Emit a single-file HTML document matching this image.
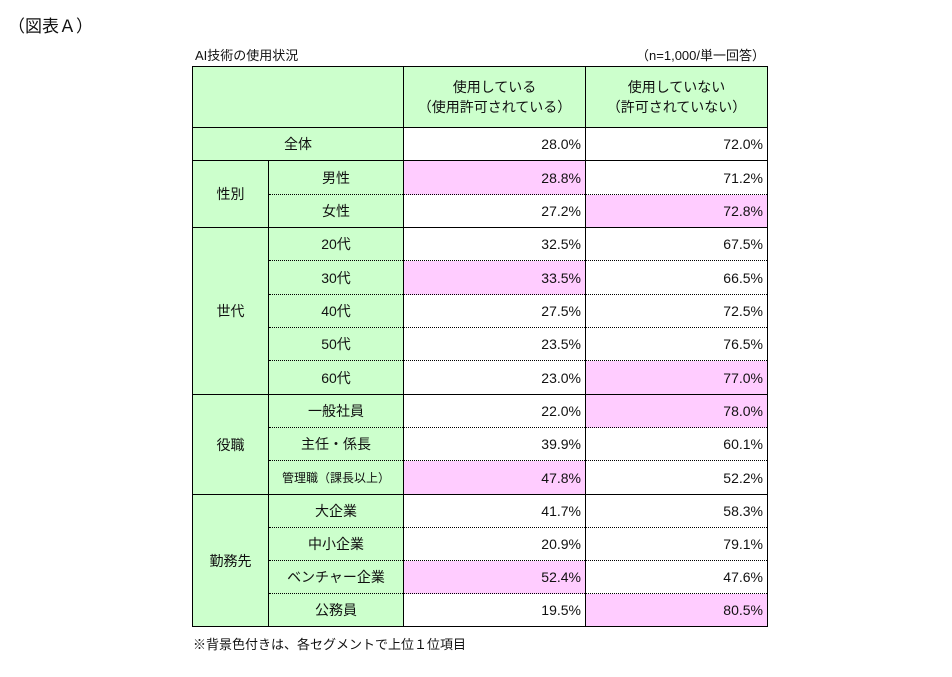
<!DOCTYPE html>
<html><head><meta charset="utf-8"><style>
body{margin:0;width:952px;height:677px;background:#fff;font-family:"Liberation Sans","Noto Sans CJK JP",sans-serif;color:#111;position:relative;overflow:hidden}
.t{position:absolute;white-space:nowrap}
table{position:absolute;left:192px;top:66px;border-collapse:collapse;font-size:14px;table-layout:fixed}
td{border:1px solid #000;border-top-style:dotted;border-bottom-style:dotted;padding:0 4px;height:32px;box-sizing:border-box}
tr.s td{border-top-style:solid}
tr.h td{border-style:solid}
tr.e td{border-bottom-style:solid}
td.r{border-top-style:solid;border-bottom-style:solid}
.g{background:#ccffcc;text-align:center}
.p{background:#ffccff}
.n{text-align:right}
</style></head><body>
<div class="t" style="left:8px;top:12px;font-size:17px">（図表Ａ）</div>
<div class="t" style="left:195px;top:45px;font-size:13px">AI技術の使用状況</div>
<div class="t" style="left:587px;top:45px;font-size:13px;width:178px;text-align:right">（n=1,000/単一回答）</div>
<table>
<colgroup><col style="width:76px"><col style="width:135px"><col style="width:182px"><col style="width:182px"></colgroup>
<tr class="h" style="height:61px"><td class="g" colspan="2" style="height:61px"></td><td class="g" style="line-height:20px">使用している<br>（使用許可されている）</td><td class="g" style="line-height:20px">使用していない<br>（許可されていない）</td></tr>
<tr class="s e" style="height:33px"><td class="g" colspan="2">全体</td><td class="n">28.0%</td><td class="n">72.0%</td></tr>
<tr class="s" style="height:34px"><td class="g r" rowspan="2">性別</td><td class="g">男性</td><td class="n p">28.8%</td><td class="n">71.2%</td></tr>
<tr style="height:33px"><td class="g">女性</td><td class="n">27.2%</td><td class="n p">72.8%</td></tr>
<tr class="s" style="height:33px"><td class="g r" rowspan="5">世代</td><td class="g">20代</td><td class="n">32.5%</td><td class="n">67.5%</td></tr>
<tr style="height:34px"><td class="g">30代</td><td class="n p">33.5%</td><td class="n">66.5%</td></tr>
<tr style="height:33px"><td class="g">40代</td><td class="n">27.5%</td><td class="n">72.5%</td></tr>
<tr style="height:33px"><td class="g">50代</td><td class="n">23.5%</td><td class="n">76.5%</td></tr>
<tr style="height:34px"><td class="g">60代</td><td class="n">23.0%</td><td class="n p">77.0%</td></tr>
<tr class="s" style="height:33px"><td class="g r" rowspan="3">役職</td><td class="g">一般社員</td><td class="n">22.0%</td><td class="n p">78.0%</td></tr>
<tr style="height:33px"><td class="g">主任・係長</td><td class="n">39.9%</td><td class="n">60.1%</td></tr>
<tr style="height:34px"><td class="g" style="font-size:12px">管理職（課長以上）</td><td class="n p">47.8%</td><td class="n">52.2%</td></tr>
<tr class="s" style="height:33px"><td class="g r" rowspan="4">勤務先</td><td class="g">大企業</td><td class="n">41.7%</td><td class="n">58.3%</td></tr>
<tr style="height:33px"><td class="g">中小企業</td><td class="n">20.9%</td><td class="n">79.1%</td></tr>
<tr style="height:33px"><td class="g">ベンチャー企業</td><td class="n p">52.4%</td><td class="n">47.6%</td></tr>
<tr class="e" style="height:33px"><td class="g">公務員</td><td class="n">19.5%</td><td class="n p">80.5%</td></tr>
</table>
<div class="t" style="left:193px;top:634px;font-size:13px">※背景色付きは、各セグメントで上位１位項目</div>
</body></html>
